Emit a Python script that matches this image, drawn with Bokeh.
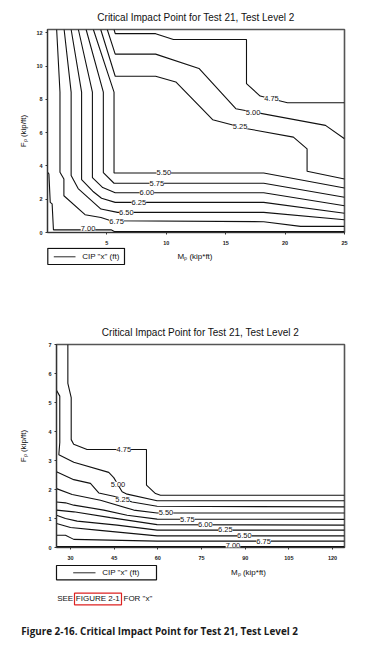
import numpy as np
from bokeh.plotting import figure
from bokeh.models import ColumnDataSource, LabelSet, FixedTicker, Range1d
from bokeh.embed import file_html
from bokeh.resources import INLINE
from bokeh.core.properties import value

# ---------------- data : chart 1  (Mp 0-25 kip*ft) ----------------
levels = ["4.75", "5.00", "5.25", "5.50", "5.75", "6.00", "6.25", "6.50", "6.75", "7.00"]

t475_x = [5.6, 5.7, 9.1, 10.6, 16.75, 16.75, 17.9, 20.2, 25.0]
t475_y = [12.2, 11.95, 11.95, 11.6, 11.6, 8.95, 8.2, 7.8, 7.8]
t500_x = [5.03, 5.7, 9.1, 12.75, 15.85, 23.4, 25.0]
t500_y = [12.2, 10.72, 10.72, 9.86, 7.44, 6.44, 5.63]
t525_x = [4.48, 5.7, 9.1, 10.8, 13.9, 16.8, 20.7, 21.85, 21.85, 25.0]
t525_y = [12.2, 9.39, 9.39, 9.05, 6.78, 6.24, 5.73, 5.03, 3.68, 3.22]
t550_x = [3.86, 5.6, 5.6, 18.2, 25.0]
t550_y = [12.2, 8.44, 3.58, 3.58, 2.67]
t575_x = [3.25, 4.7, 4.7, 5.6, 18.2, 25.0]
t575_y = [12.2, 8.44, 3.6, 2.96, 2.96, 2.12]
t600_x = [2.6, 3.78, 3.78, 4.65, 5.7, 18.2, 25.0]
t600_y = [12.2, 8.44, 3.3, 2.7, 2.39, 2.39, 1.61]
t625_x = [1.99, 2.87, 2.87, 3.81, 4.55, 5.7, 18.2, 25.0]
t625_y = [12.2, 8.44, 3.18, 2.48, 2.06, 1.81, 1.81, 1.16]
t650_x = [1.4, 1.99, 1.99, 2.58, 4.5, 5.9, 18.2, 25.0]
t650_y = [12.2, 8.44, 3.42, 2.64, 1.41, 1.21, 1.21, 0.77]
t675_x = [0.77, 1.05, 1.05, 1.38, 1.38, 3.16, 4.5, 5.34, 18.2, 21.3, 25.0]
t675_y = [12.2, 8.44, 3.62, 3.22, 2.21, 1.07, 0.9, 0.71, 0.65, 0.37, 0.37]
t700_x = [0.05, 0.12, 0.23, 0.39, 0.5, 5.35, 5.62, 25.0]
t700_y = [3.6, 3.52, 1.81, 1.72, 0.16, 0.16, 0.06, 0.06]

top_label_x = [18.85, 17.3, 16.21, 9.79, 9.2, 8.36, 7.69, 6.64, 5.81, 3.41]
top_label_y = [8.03, 7.22, 6.35, 3.58, 2.96, 2.39, 1.81, 1.21, 0.66, 0.25]

top_xticks = [5, 10, 15, 20, 25]
top_yticks = [0, 2, 4, 6, 8, 10, 12]

# ---------------- data : chart 2  (Mp 25-124 kip*ft) ----------------
b475_x = [29.1, 29.1, 30.25, 30.25, 31.1, 35.7, 56.1, 56.1, 59.2, 60.9, 124.1]
b475_y = [7.0, 5.66, 5.17, 3.72, 3.56, 3.38, 3.38, 2.15, 1.86, 1.80, 1.80]
b500_x = [25.2, 25.2, 26.33, 26.33, 26.0, 31.13, 43.14, 44.86, 47.74, 49.46, 59.75, 124.1]
b500_y = [7.0, 5.42, 5.22, 3.62, 3.2, 2.94, 2.59, 2.41, 1.92, 1.84, 1.61, 1.61]
b525_x = [25.2, 31.13, 36.86, 39.71, 46.03, 51.17, 59.75, 124.1]
b525_y = [2.61, 2.34, 2.21, 1.88, 1.74, 1.57, 1.42, 1.40]
b550_x = [25.2, 30.58, 40.3, 51.72, 59.75, 124.1]
b550_y = [2.03, 1.83, 1.63, 1.29, 1.19, 1.19]
b575_x = [25.2, 28.28, 31.13, 41.43, 49.46, 59.75, 124.1]
b575_y = [1.57, 1.54, 1.46, 1.29, 1.11, 0.98, 0.97]
b600_x = [25.2, 31.13, 43.73, 59.75, 124.1]
b600_y = [1.29, 1.23, 1.03, 0.79, 0.77]
b625_x = [25.2, 28.28, 32.3, 46.03, 59.75, 124.1]
b625_y = [1.11, 1.0, 0.91, 0.77, 0.60, 0.60]
b650_x = [25.2, 30.0, 39.16, 59.75, 124.1]
b650_y = [0.83, 0.69, 0.60, 0.40, 0.40]
b675_x = [25.2, 28.28, 31.13, 59.75, 124.1]
b675_y = [0.42, 0.42, 0.28, 0.22, 0.22]
b700_x = [25.2, 124.1]
b700_y = [0.03, 0.03]

bot_label_x = [48.3, 46.3, 47.9, 62.8, 70.15, 76.33, 83.19, 89.7, 96.3, 85.8]
bot_label_y = [3.38, 2.18, 1.66, 1.19, 0.97, 0.78, 0.61, 0.40, 0.21, 0.06]

bot_xticks = [30, 45, 60, 75, 90, 105, 120]
bot_yticks = [0, 1, 2, 3, 4, 5, 6, 7]

TITLE = "Critical Impact Point for Test 21, Test Level 2"
Y_LABEL = "F\u209a (kip/ft)"
X_LABEL = "M\u209a (kip*ft)"
LEGEND_TEXT = 'CIP "x" (ft)'
CAPTION = "Figure 2-16. Critical Impact Point for Test 21, Test Level 2"
FONT = "Liberation Sans"
INK = "#111111"
W = 370


def chart(height, xr, yr, bl, bt, bb, br, xticks, yticks, ylab_standoff, title_offset):
    p = figure(width=W, height=height, x_range=Range1d(*xr), y_range=Range1d(*yr),
               output_backend="svg", toolbar_location=None,
               min_border_left=bl, min_border_top=bt, min_border_bottom=bb,
               min_border_right=br)
    p.title.text = TITLE
    p.title.text_font = FONT
    p.title.text_font_size = "10px"
    p.title.text_font_style = "normal"
    p.title.text_color = INK
    p.title.align = "center"
    p.title.offset = title_offset
    p.title.standoff = 13
    p.grid.visible = False
    p.outline_line_color = "#555555"
    p.outline_line_width = 1.6
    p.background_fill_color = "white"
    p.border_fill_color = "white"
    p.xaxis.ticker = FixedTicker(ticks=xticks)
    p.yaxis.ticker = FixedTicker(ticks=yticks)
    for ax in (p.xaxis[0], p.yaxis[0]):
        ax.minor_tick_line_color = None
        ax.major_tick_in = 0
        ax.major_tick_out = 2
        ax.major_tick_line_color = "#333333"
        ax.axis_line_color = "#333333"
        ax.major_label_text_font = FONT
        ax.major_label_text_font_size = "5.5px"
        ax.major_label_text_font_style = "bold"
        ax.major_label_text_color = "#222222"
        ax.major_label_standoff = 3
    p.xaxis[0].major_label_standoff = 6
    p.yaxis[0].axis_label = Y_LABEL
    p.yaxis[0].axis_label_text_font = FONT
    p.yaxis[0].axis_label_text_font_size = "8px"
    p.yaxis[0].axis_label_text_font_style = "normal"
    p.yaxis[0].axis_label_text_color = INK
    p.yaxis[0].axis_label_standoff = ylab_standoff
    return p


def add_contours(p, xs, ys, lx, ly):
    for x, y in zip(xs, ys):
        p.line(x, y, line_color="#111111", line_width=1.1)
    src = ColumnDataSource(dict(x=lx, y=ly, t=levels))
    p.add_layout(LabelSet(x="x", y="y", text="t", source=src,
                          text_font=value(FONT), text_font_size="7.5px",
                          text_align="center", text_baseline="middle",
                          text_color=INK, background_fill_color="white"))


def strip(height):
    # plain drawing strip whose frame covers the whole canvas (pixel coordinates, y down)
    s = figure(width=W, height=height, x_range=Range1d(0, W), y_range=Range1d(height, 0),
               x_axis_type=None, y_axis_type=None, output_backend="svg",
               toolbar_location=None, min_border=0, min_border_left=0,
               min_border_right=0, min_border_top=0, min_border_bottom=0)
    s.grid.visible = False
    s.outline_line_color = None
    s.background_fill_color = "white"
    s.border_fill_color = "white"
    return s


def stext(s, x, y, text, size="8px", align="left", style="normal", font=FONT, color=INK):
    s.text(x=[x], y=[y], text=[text], text_font=value(font), text_font_size=value(size),
           text_align=align, text_baseline="middle", text_font_style=style,
           text_color=color)


def legend_box(s, left, right, top, bottom, lx0, lx1, ly, tx):
    s.quad(left=[left], right=[right], top=[top], bottom=[bottom],
           fill_color=None, line_color="#111111", line_width=1.2)
    s.line([lx0, lx1], [ly, ly], line_color="#111111", line_width=0.9)
    stext(s, tx, ly, LEGEND_TEXT)


# ---------------- chart 1 ----------------
p1 = chart(247, (0, 25), (0, 12.2), 47, 29, 15, 26, top_xticks, top_yticks, 5, 0)
add_contours(p1,
             [t475_x, t500_x, t525_x, t550_x, t575_x, t600_x, t625_x, t650_x, t675_x, t700_x],
             [t475_y, t500_y, t525_y, t550_y, t575_y, t600_y, t625_y, t650_y, t675_y, t700_y],
             top_label_x, top_label_y)

s1 = strip(43)
legend_box(s1, 47.3, 124, 0.8, 17, 53.3, 75, 9.3, 81.7)
stext(s1, 194.5, 9, X_LABEL, align="center")

# ---------------- chart 2 ----------------
p2 = chart(272, (25.2, 124.1), (0, 7), 56, 54, 15, 26, bot_xticks, bot_yticks, 17, -4)
add_contours(p2,
             [b475_x, b500_x, b525_x, b550_x, b575_x, b600_x, b625_x, b650_x, b675_x, b700_x],
             [b475_y, b500_y, b525_y, b550_y, b575_y, b600_y, b625_y, b650_y, b675_y, b700_y],
             bot_label_x, bot_label_y)

s2 = strip(77)
legend_box(s2, 56, 156, 3, 17.3, 72.7, 95, 10.3, 101.7)
stext(s2, 248, 9.7, X_LABEL, align="center")
stext(s2, 56.7, 36.3, "SEE")
stext(s2, 75.3, 36.3, "FIGURE 2-1")
stext(s2, 123, 36.3, 'FOR "x"')
s2.quad(left=[74], right=[121], top=[30.7], bottom=[42.3], fill_color=None,
        line_color="#dd2222", line_width=1.2)
stext(s2, 20.7, 68.3, CAPTION, size="9.9px", style="bold", font="Open Sans",
      color="#1a1a1a")

open("out.html", "w").write(file_html([p1, s1, p2, s2], INLINE))
